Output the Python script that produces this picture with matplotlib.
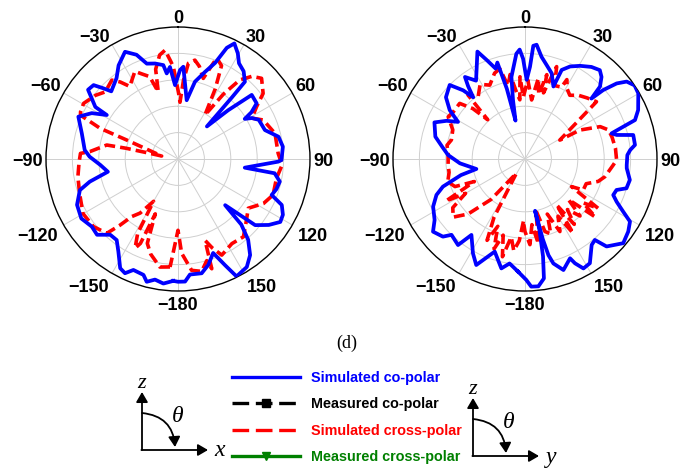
import numpy as np
import matplotlib
matplotlib.use("Agg")
import matplotlib.pyplot as plt
from matplotlib.lines import Line2D
from matplotlib.patches import FancyArrowPatch
from matplotlib.font_manager import FontProperties

# ---------------- data (angle in deg, normalized gain in dB, range -50..0) ----------------
tick_angles = list(range(0, 360, 30))
tick_labels = ["0", "30", "60", "90", "120", "150", "\u2212180", "\u2212150", "\u2212120", "\u221290", "\u221260", "\u221230"]

# left panel (xz-plane) simulated co-polar
xz_co_theta = [-177.8, -173.3, -169.2, -165.7, -163.4, -158.1, -155.1, -152.1, -147.2, -142.9,
               -138.2, -133.1, -128.1, -121.6, -114.4, -107.6, -104.4, -100.3, -94.4, -88.5,
               -84.5, -75.1, -67.0, -62.0, -58.3, -57.8, -52.4, -48.8, -46.6, -44.6,
               -37.2, -32.4, -26.3, -21.7, -18.1, -13.5, -8.9, -7.5, -5.0, -2.3,
               1.3, 3.3, 8.4, 12.4, 17.2, 21.1, 23.7, 26.0, 29.5, 32.5,
               36.8, 40.9, 41.2, 41.6, 45.8, 49.0, 54.7, 57.5, 59.0, 61.0,
               64.1, 71.6, 77.5, 83.3, 90.6, 91.5, 97.4, 98.4, 102.5, 107.0,
               111.0, 113.9, 118.0, 121.6, 126.0, 130.6, 134.4, 136.0, 139.0, 143.1,
               147.5, 153.5, 156.1, 159.5, 164.0, 168.3, 174.1, 176.7, 180.0]
xz_co_gain = [-3.8, -2.5, -3.5, -2.0, -4.2, -4.7, -2.3, -3.2, -8.3, -11.5,
              -11.5, -8.0, -8.5, -7.0, -8.0, -11.0, -15.5, -23.0, -20.5, -16.5,
              -14.5, -12.3, -9.0, -13.0, -18.3, -13.0, -7.0, -7.5, -11.0, -14.0,
              -11.5, -8.0, -4.7, -7.5, -12.0, -12.8, -14.0, -17.3, -15.0, -22.0,
              -16.3, -15.0, -27.5, -20.0, -15.5, -11.0, -4.0, -1.3, -4.0, -7.0,
              -8.5, -11.3, -19.0, -33.5, -23.5, -13.0, -13.5, -17.0, -20.5, -18.0,
              -16.0, -15.3, -11.0, -10.0, -10.8, -12.0, -24.5, -13.0, -10.5, -11.0,
              -12.0, -7.0, -5.0, -4.5, -7.5, -11.5, -25.0, -15.5, -9.5, -4.5,
              -1.5, -0.3, -6.0, -12.0, -8.3, -5.8, -6.0, -3.5, -3.5]

# left panel simulated cross-polar
xz_x_theta = [-175.8, -170.5, -164.0, -160.0, -157.5, -156.0, -154.3, -151.5, -150.0, -145.0,
              -141.2, -138.7, -136.2, -128.6, -119.9, -109.3, -100.0, -92.0, -86.7, -85.2,
              -78.9, -78.3, -78.6, -79.6, -69.7, -68.5, -65.8, -64.2, -59.5, -52.4,
              -47.3, -40.0, -36.9, -33.6, -26.2, -23.0, -19.0, -16.4, -14.0, -10.0,
              -6.8, -4.5, -2.9, 0.5, 2.0, 4.0, 6.2, 9.7, 13.0, 17.4,
              21.0, 25.0, 28.0, 31.5, 35.0, 38.0, 41.8, 46.0, 52.4, 56.4,
              61.1, 65.4, 75.2, 86.8, 93.3, 101.1, 110.7, 117.5, 125.0, 132.4,
              139.9, 147.5, 155.5, 159.0, 161.6, 162.9, 164.2, 168.1, 173.0, 177.8,
              180.0]
xz_x_gain = [-9.0, -8.5, -12.5, -16.0, -27.5, -15.0, -12.5, -18.0, -31.5, -25.0,
             -22.0, -16.5, -11.0, -9.0, -8.5, -10.5, -11.5, -12.5, -13.0, -16.5,
             -22.5, -30.0, -39.0, -43.7, -29.3, -18.3, -9.5, -9.0, -8.5, -10.5,
             -12.5, -11.0, -13.5, -17.0, -13.0, -15.0, -17.0, -23.5, -15.0, -10.0,
             -8.5, -12.5, -15.0, -25.0, -28.5, -20.0, -13.5, -12.0, -14.0, -18.0,
             -9.0, -11.0, -20.0, -30.5, -20.0, -12.0, -8.0, -6.0, -9.3, -14.3,
             -18.0, -14.5, -12.0, -12.0, -10.5, -12.0, -11.5, -13.5, -17.5, -15.0,
             -11.5, -12.0, -10.0, -14.0, -17.5, -6.5, -10.0, -6.5, -7.5, -14.3,
             -23.0]

# right panel (yz-plane) simulated co-polar
yz_co_theta = [-176.4, -171.6, -167.8, -161.9, -155.3, -151.1, -144.8, -142.1, -135.9, -133.4,
               -128.3, -124.0, -117.4, -112.1, -108.6, -104.1, -101.6, -93.8, -87.0, -82.0,
               -76.0, -68.0, -64.0, -61.0, -57.0, -52.0, -45.5, -42.0, -40.0, -38.0,
               -36.2, -32.0, -28.0, -23.9, -21.0, -18.0, -16.0, -14.5, -13.9, -11.5,
               -9.4, -4.7, -2.8, -1.1, 1.2, 3.1, 4.2, 5.8, 9.2, 13.0,
               17.3, 21.4, 22.4, 26.0, 30.6, 35.8, 40.1, 43.0, 46.0, 47.7,
               48.6, 50.5, 52.7, 56.1, 59.9, 66.6, 70.5, 71.8, 73.5, 75.3,
               77.5, 82.7, 85.1, 87.8, 93.4, 95.2, 101.3, 106.1, 108.7, 112.2,
               115.0, 118.2, 120.8, 125.1, 130.6, 137.0, 139.2, 142.2, 148.1, 151.9,
               154.4, 155.6, 160.9, 164.8, 166.3, 167.5, 169.0, 168.5, 169.5, 171.0,
               174.0, 177.2, 179.4]
yz_co_gain = [-7.3, -10.0, -7.6, -13.1, -5.8, -9.2, -14.8, -8.7, -10.0, -7.2,
              -5.6, -8.7, -10.8, -13.8, -17.2, -25.0, -31.2, -25.3, -20.8, -18.5,
              -15.0, -13.0, -17.0, -21.0, -16.0, -12.0, -10.0, -15.0, -19.5, -15.0,
              -11.5, -15.0, -11.0, -5.5, -10.0, -14.0, -12.0, -22.5, -35.0, -27.2,
              -18.5, -10.0, -8.5, -12.0, -20.0, -15.0, -7.0, -6.5, -10.8, -13.5,
              -16.0, -20.5, -13.5, -11.0, -9.0, -7.0, -6.0, -7.5, -10.5, -16.0,
              -10.5, -5.0, -1.6, 0.0, -0.4, -3.3, -5.8, -10.8, -15.8, -14.1,
              -8.0, -8.0, -10.0, -11.2, -11.4, -11.3, -9.5, -10.0, -13.4, -13.9,
              -11.7, -7.8, -3.7, -2.2, -1.0, -4.7, -9.5, -8.8, -3.5, -3.0,
              -6.2, -8.7, -5.5, -9.0, -12.5, -19.0, -30.0, -22.5, -12.5, -4.2,
              -1.5, -1.6, -4.2]

# right panel simulated cross-polar
yz_x_theta = [-178.5, -176.0, -173.0, -170.0, -167.0, -164.0, -161.0, -158.0, -155.0, -152.0,
              -148.8, -140.0, -134.0, -129.0, -124.0, -120.0, -118.0, -114.0, -111.5, -106.4,
              -100.0, -94.4, -85.8, -80.0, -75.5, -68.0, -61.2, -56.7, -49.6, -46.0,
              -43.5, -41.7, -37.0, -31.0, -25.5, -19.5, -15.6, -13.0, -10.0, -7.0,
              -5.0, -3.5, -1.5, 2.0, 6.4, 9.4, 12.0, 14.5, 15.6, 18.9,
              22.0, 26.9, 27.8, 31.0, 35.1, 40.0, 45.5, 51.3, 61.5, 62.2,
              66.7, 70.8, 76.0, 83.2, 90.6, 93.9, 102.5, 107.0, 112.0, 118.0,
              120.7, 124.0, 127.0, 129.5, 133.0, 136.0, 140.0, 143.0, 145.5, 147.0,
              150.0, 154.3, 158.0, 161.0, 164.6, 168.0, 171.0, 174.0, 176.7, 180.0]
yz_x_gain = [-26.3, -19.0, -15.0, -20.0, -12.0, -20.0, -14.0, -22.5, -16.0, -25.0,
             -43.7, -30.0, -20.0, -15.0, -17.0, -24.0, -16.0, -29.0, -21.5, -19.5,
             -20.8, -20.8, -20.8, -20.0, -21.2, -20.5, -16.8, -17.5, -17.5, -22.5,
             -29.5, -17.5, -20.5, -17.0, -19.0, -15.5, -14.5, -21.5, -17.5, -25.0,
             -27.5, -18.8, -26.5, -20.0, -27.5, -19.0, -25.0, -17.0, -24.0, -13.0,
             -20.0, -19.5, -16.0, -19.0, -20.5, -18.5, -17.0, -15.3, -35.0, -26.5,
             -19.0, -16.5, -16.0, -15.5, -15.3, -16.5, -19.0, -21.0, -25.0, -25.0,
             -29.5, -16.5, -22.5, -15.5, -27.5, -20.0, -25.0, -19.0, -29.0, -16.5,
             -25.0, -19.5, -27.5, -20.0, -21.5, -30.0, -17.5, -25.0, -17.5, -22.5]

legend_labels = ["Simulated co-polar", "Measured co-polar", "Simulated cross-polar", "Measured cross-polar"]
legend_colors = ["#0000ff", "#000000", "#ff0000", "#008000"]

# ---------------- figure ----------------
W, H = 684, 469
fig = plt.figure(figsize=(W / 100, H / 100), dpi=100)

R = 132


def polar_axes(cx, cy):
    return fig.add_axes([(cx - R) / W, (H - cy - R) / H, 2 * R / W, 2 * R / H], projection="polar")


tick_font = FontProperties(family="Liberation Sans", weight="bold", size=13)


def style(ax):
    ax.set_theta_zero_location("N")
    ax.set_theta_direction(-1)
    ax.set_ylim(-50, 0)
    ax.set_yticks([-40, -30, -20, -10])
    ax.set_yticklabels([])
    ax.set_xticks(np.deg2rad(tick_angles))
    ax.set_xticklabels([])
    ax.set_xticks(np.deg2rad(np.arange(0, 360, 5)), minor=True)
    ax.grid(True, which="major", color="#cfcfcf", lw=0.7)
    ax.tick_params(axis="x", which="both", direction="in", length=3.5, width=0.7, color="#333333")
    ax.spines["polar"].set_linewidth(1.0)
    ax.set_facecolor("white")
    # angle labels placed just outside the rim, anchored by their nearest edge
    for ang, lab in zip(tick_angles, tick_labels):
        s, c = np.sin(np.deg2rad(ang)), np.cos(np.deg2rad(ang))
        ha = "left" if s > 0.1 else ("right" if s < -0.1 else "center")
        if c > 0.1:
            va, gap = "baseline", 2.6
        elif c < -0.1:
            va, gap = "top", 4.5
        else:
            va, gap = "center_baseline", 2.6
        ax.annotate(lab, xy=(np.deg2rad(ang), 0), xytext=(gap * s, gap * c), textcoords="offset points",
                    ha=ha, va=va, fontproperties=tick_font, annotation_clip=False)


def closed(t, g):
    t = np.deg2rad(np.r_[t, t[0]])
    g = np.r_[g, g[0]]
    return t, g


for (cx, cy), (ct, cg, xt, xg) in zip(
        [(178, 159), (525, 159)],
        [(xz_co_theta, xz_co_gain, xz_x_theta, xz_x_gain),
         (yz_co_theta, yz_co_gain, yz_x_theta, yz_x_gain)]):
    ax = polar_axes(cx, cy)
    style(ax)
    t, g = closed(xt, xg)
    ax.plot(t, g, color="#ff0000", lw=2.6, dashes=(3.0, 1.4), zorder=3)
    t, g = closed(ct, cg)
    ax.plot(t, g, color="#0000ff", lw=2.7, zorder=4, solid_joinstyle="round")

fig.text(347 / W, 1 - 343 / H, "(d)", family="Liberation Serif", fontsize=13, ha="center", va="center")

# legend
handles = [
    Line2D([], [], color="#0000ff", lw=2.4),
    Line2D([], [], color="#000000", lw=2.4, dashes=(5, 2), marker="s", ms=6),
    Line2D([], [], color="#ff0000", lw=2.4, dashes=(5, 2)),
    Line2D([], [], color="#008000", lw=2.4, marker="v", ms=6),
]
leg = fig.legend(handles, legend_labels, loc="upper left", bbox_to_anchor=(232 / W, 1 - 371 / H),
                 bbox_transform=fig.transFigure, frameon=False, borderpad=0, borderaxespad=0,
                 handlelength=4.7, handletextpad=0.8, labelspacing=0.86, numpoints=1,
                 prop=FontProperties(family="Liberation Sans", weight="bold", size=10.4))
for txt, c in zip(leg.get_texts(), legend_colors):
    txt.set_color(c)

# coordinate sketches
ov = fig.add_axes([0, 0, 1, 1])
ov.set_xlim(0, W)
ov.set_ylim(H, 0)
ov.axis("off")
ov.patch.set_alpha(0)

for (ox, oy, lab) in [(142, 450, "x"), (473, 456, "y")]:
    ov.add_patch(FancyArrowPatch((ox, oy), (ox, oy - 58), arrowstyle="-|>,head_length=6,head_width=3.5",
                                 lw=1.3, color="black", mutation_scale=1, shrinkA=0, shrinkB=0))
    ov.add_patch(FancyArrowPatch((ox - 0.6, oy), (ox + 66, oy), arrowstyle="-|>,head_length=6,head_width=3.5",
                                 lw=1.3, color="black", mutation_scale=1, shrinkA=0, shrinkB=0))
    ov.add_patch(FancyArrowPatch((ox, oy - 37), (ox + 33, oy - 3),
                                 connectionstyle="arc3,rad=-0.42",
                                 arrowstyle="-|>,head_length=6,head_width=3.5",
                                 lw=1.3, color="black", mutation_scale=1, shrinkA=0, shrinkB=0))
    ov.text(ox, oy - 67, "z", family="Liberation Serif", style="italic", fontsize=16, ha="center", va="center")
    ov.text(ox + 78, oy + 1, lab, family="Liberation Serif", style="italic", fontsize=17, ha="center", va="center")
    ov.text(ox + 36, oy - 34, "θ", family="Liberation Serif", style="italic", fontsize=17, ha="center", va="center")

fig.savefig("out.png", dpi=100, facecolor="white")
